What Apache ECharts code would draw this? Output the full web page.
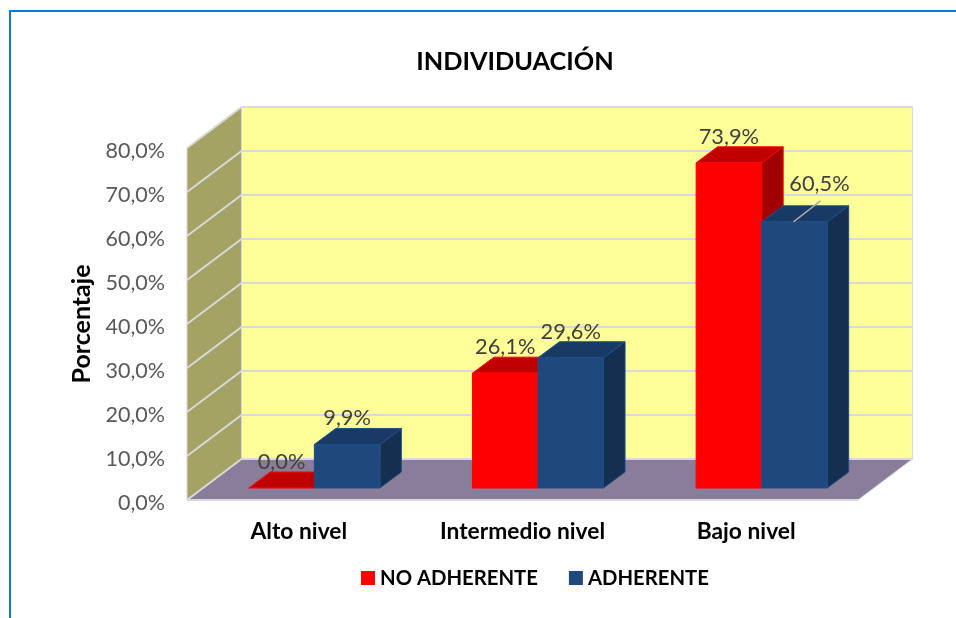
<!DOCTYPE html>
<html><head><meta charset="utf-8">
<style>html,body{margin:0;padding:0;background:#fff}#c{width:956px;height:618px}</style>
<script src="https://cdn.jsdelivr.net/npm/echarts@6/dist/echarts.min.js"></script>
</head><body><div id="c"></div>
<script>
const categories = ['Alto nivel', 'Intermedio nivel', 'Bajo nivel'];
const noAdherente = [0.0, 26.1, 73.9];
const adherente = [9.9, 29.6, 60.5];
const tickValues = [0, 10, 20, 30, 40, 50, 60, 70, 80];
const FONT = 'Lato, Carlito, sans-serif';
const fmt = v => v.toFixed(1).replace('.', ',') + '%';

// oblique projection of the pseudo-3D chart, in pixels
const WALL = [54.5, -41], BASE = [15.5, -12], DEPTH = [21.5, -16];
const BAR_RATIO = 0.293;

function renderWalls(params, api) {
  const cs = params.coordSys;
  const l = cs.x, r = cs.x + cs.width, b = cs.y + cs.height, t = cs.y;
  const dx = WALL[0], dy = WALL[1];
  const poly = (points, fill) => ({type: 'polygon', shape: {points}, style: {fill, stroke: '#D9D9D9', lineWidth: 1}, silent: true});
  const children = [
    poly([[l + dx, t + dy], [r + dx, t + dy], [r + dx, b + dy], [l + dx, b + dy]], '#FFFF99'),
    poly([[l, t], [l + dx, t + dy], [l + dx, b + dy], [l, b]], '#A5A364'),
    poly([[l, b], [l + dx, b + dy], [r + dx, b + dy], [r, b]], '#8A7D99')
  ];
  tickValues.forEach(v => {
    const y = api.coord([0, v])[1];
    const seg = (x1, y1, x2, y2) => ({type: 'line', shape: {x1, y1, x2, y2}, style: {stroke: '#D9D9D9', lineWidth: 2}, silent: true});
    children.push(seg(l, y, l + dx, y + dy));
    children.push(seg(l + dx, y + dy, r + dx, y + dy));
  });
  children.push({type: 'line', shape: {x1: l, y1: b, x2: r, y2: b}, style: {stroke: '#D9D9D9', lineWidth: 2}, silent: true});
  return {type: 'group', children};
}

function barRenderer(side, front, top, dark, stroke) {
  return function (params, api) {
    const cat = api.value(0), val = api.value(1);
    const band = api.size([1, 0])[0];
    const w = band * BAR_RATIO;
    const c0 = api.coord([cat, 0]), c1 = api.coord([cat, val]);
    const x0 = c0[0] + BASE[0] + (side < 0 ? -w : 0), x1 = x0 + w;
    const yb = c0[1] + BASE[1], yt = c1[1] + BASE[1];
    const dx = DEPTH[0], dy = DEPTH[1];
    const st = fill => ({fill, stroke, lineWidth: 1, lineJoin: 'round'});
    const children = [];
    if (val > 0) {
      children.push({type: 'polygon', shape: {points: [[x1, yb], [x1 + dx, yb + dy], [x1 + dx, yt + dy], [x1, yt]]}, style: st(dark)});
    }
    children.push({type: 'polygon', shape: {points: [[x0, yt], [x0 + dx, yt + dy], [x1 + dx, yt + dy], [x1, yt]]}, style: st(top)});
    if (val > 0) {
      children.push({type: 'rect', shape: {x: x0, y: yt, width: w, height: yb - yt}, style: st(front)});
    }
    return {type: 'group', children};
  };
}

function labelRenderer(side, values) {
  return function (params, api) {
    const cat = api.value(0), val = api.value(1);
    const band = api.size([1, 0])[0];
    const w = band * BAR_RATIO;
    const c0 = api.coord([cat, 0]), c1 = api.coord([cat, val]);
    const cx = c0[0] + BASE[0] + side * w / 2;
    const yt = c1[1] + BASE[1];
    const children = [];
    // the tallest ADHERENTE label was dragged away from its bar and got a leader line
    const moved = side > 0 && val === Math.max.apply(null, values);
    const lx = moved ? cx + 25 : cx, ly = moved ? yt - 38 : yt - 26;
    if (moved) {
      children.push({type: 'line', shape: {x1: cx - 1, y1: yt, x2: cx + 26, y2: yt - 21}, style: {stroke: '#A6A6A6', lineWidth: 1.5}});
    }
    children.push({type: 'text', style: {x: lx, y: ly, text: fmt(val), fill: '#404040', font: '21.8px ' + FONT, textAlign: 'center', textVerticalAlign: 'middle'}});
    return {type: 'group', children};
  };
}

const idx = a => a.map((v, i) => [i, v]);

const chart = echarts.init(document.getElementById('c'), null, {renderer: 'canvas'});
chart.setOption({
  animation: false,
  backgroundColor: '#fff',
  title: {
    text: 'INDIVIDUACIÓN', left: 510, top: 44, textAlign: 'center',
    textStyle: {fontFamily: FONT, fontWeight: 'bold', fontSize: 25.3, color: '#000'}
  },
  grid: {left: 187, top: 148, width: 671, height: 352, containLabel: false},
  xAxis: {
    type: 'category', data: categories,
    axisLine: {show: false}, axisTick: {show: false}, splitLine: {show: false},
    axisLabel: {fontFamily: FONT, fontWeight: 'bold', fontSize: 22.8, color: '#000', margin: 20}
  },
  yAxis: {
    type: 'value', min: 0, max: 80, interval: 10,
    axisLine: {show: false}, axisTick: {show: false}, splitLine: {show: false},
    axisLabel: {formatter: fmt, fontFamily: FONT, fontSize: 21.5, color: '#595959', margin: 22, verticalAlign: 'top', lineHeight: 6},
    name: 'Porcentaje', nameLocation: 'middle', nameGap: 93, nameRotate: 90,
    nameTextStyle: {fontFamily: FONT, fontWeight: 'bold', fontSize: 25, color: '#000'}
  },
  legend: {
    data: ['NO ADHERENTE', 'ADHERENTE'], left: 356, top: 563,
    icon: 'rect', itemWidth: 14, itemHeight: 14, itemGap: 31,
    textStyle: {fontFamily: FONT, fontWeight: 'bold', fontSize: 20.3, color: '#000'}
  },
  graphic: [{
    type: 'polyline', silent: true,
    shape: {points: [[10, 618], [10, 11], [956, 11]]},
    style: {fill: null, stroke: '#0B7BD5', lineWidth: 2}
  }],
  series: [
    {name: 'walls', type: 'custom', renderItem: renderWalls, data: [[0, 0]], z: 1, silent: true},
    {name: 'NO ADHERENTE', type: 'custom', renderItem: barRenderer(-1, '#FF0000', '#C00000', '#A00000', '#FF0000'), data: idx(noAdherente), itemStyle: {color: '#FF0000'}, z: 2, silent: true},
    {name: 'ADHERENTE', type: 'custom', renderItem: barRenderer(1, '#1F497D', '#183A64', '#152F50', '#1F4E8C'), data: idx(adherente), itemStyle: {color: '#1F497D'}, z: 3, silent: true},
    {name: 'labelsA', type: 'custom', renderItem: labelRenderer(-1, noAdherente), data: idx(noAdherente), z: 4, silent: true},
    {name: 'labelsB', type: 'custom', renderItem: labelRenderer(1, adherente), data: idx(adherente), z: 4, silent: true}
  ]
});
</script></body></html>
